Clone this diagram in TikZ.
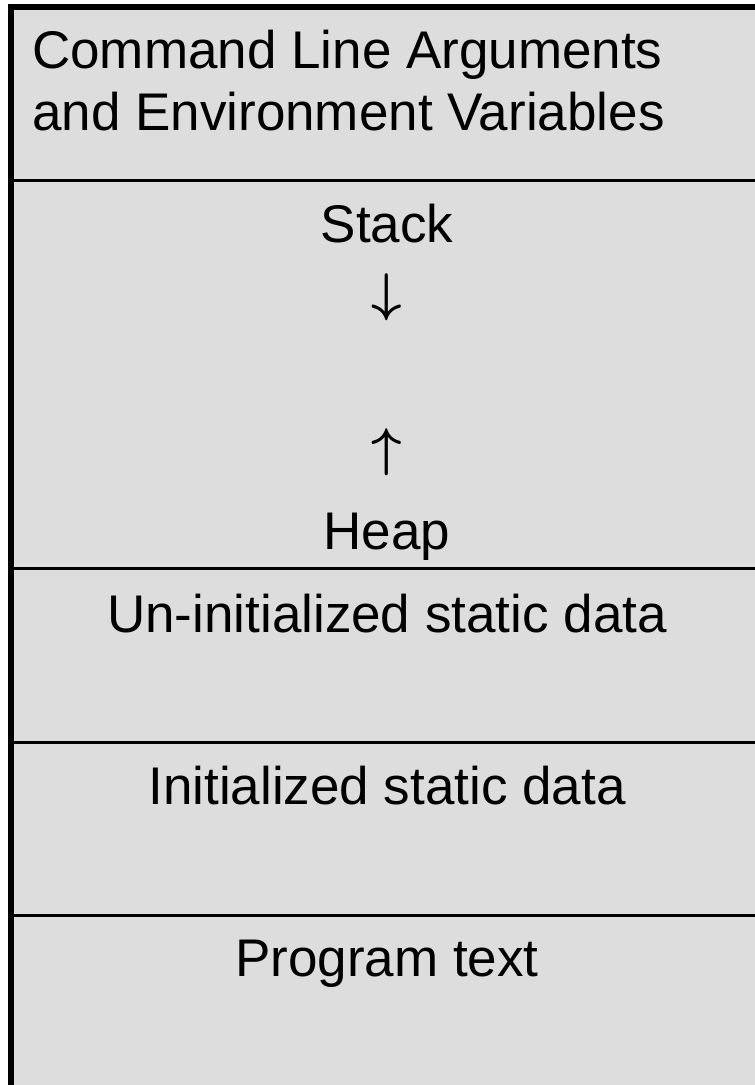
\documentclass[tikz,border=0pt]{standalone}
\usepackage{graphicx}
\usepackage{fontspec}
\setmainfont{Liberation Sans}
\definecolor{boxfill}{HTML}{DDDDDD}
\newcommand{\bigarrow}[1]{{\fontsize{10}{12}\selectfont\boldmath\scalebox{5.3}{$#1$}}}
\begin{document}
\begin{tikzpicture}[x=1pt,y=-1pt,
  lbl/.style={inner sep=0pt,font=\fontsize{53}{62}\selectfont},
  divider/.style={line width=3pt,draw=black},
  border/.style={line width=6pt,draw=black}]
\useasboundingbox (0,0) rectangle (755,1085);
\fill[boxfill] (11,7) rectangle (755,1085);
\draw[border] (11,1085) -- (11,7) -- (755,7);
\coordinate (d1l) at (14,180); \coordinate (d1r) at (755,180);
\coordinate (d2l) at (14,568); \coordinate (d2r) at (755,568);
\coordinate (d3l) at (14,742); \coordinate (d3r) at (755,742);
\coordinate (d4l) at (14,915); \coordinate (d4r) at (755,915);
\draw[divider] (d1l) -- (d1r);
\draw[divider] (d2l) -- (d2r);
\draw[divider] (d3l) -- (d3r);
\draw[divider] (d4l) -- (d4r);
\node[lbl,anchor=base west] (cla) at (32,68) {Command Line Arguments};
\node[lbl,anchor=base west] (env) at (32,130) {and Environment Variables};
\node[lbl,anchor=base] (stack) at (387,242) {Stack};
\node[lbl,anchor=base] (down) at (387,310) {\bigarrow{\downarrow}};
\node[lbl,anchor=base] (up) at (387,465) {\bigarrow{\uparrow}};
\node[lbl,anchor=base] (heap) at (387,549) {Heap};
\node[lbl,anchor=base] (uninit) at (387,632) {Un-initialized static data};
\node[lbl,anchor=base] (init) at (387,804) {Initialized static data};
\node[lbl,anchor=base] (prog) at (387,976) {Program text};
\end{tikzpicture}
\end{document}
